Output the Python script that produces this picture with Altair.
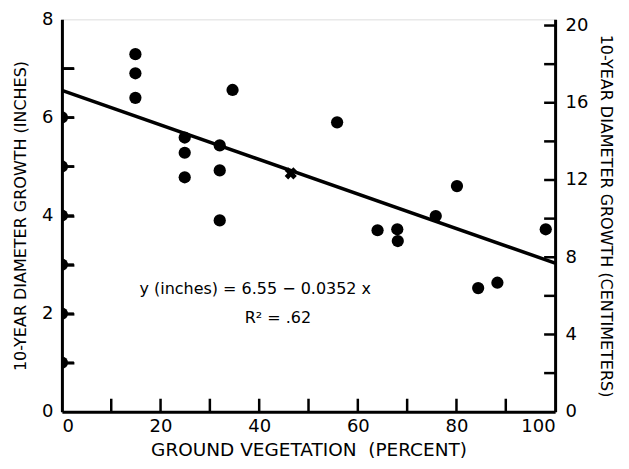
import altair as alt
import pandas as pd

# data
veg_pct = [0, 0, 0, 0, 0, 0,
           14.9, 14.9, 14.9, 24.9, 24.9, 24.9, 32.0, 32.0, 32.0, 34.6,
           55.8, 64.0, 68.0, 68.1, 75.8, 80.1, 84.4, 88.3, 98.1]
growth_in = [6.0, 5.0, 4.0, 3.0, 2.0, 1.0,
             7.29, 6.90, 6.40, 5.59, 5.28, 4.78, 5.43, 4.92, 3.90, 6.56,
             5.90, 3.70, 3.72, 3.48, 3.99, 4.60, 2.52, 2.63, 3.72]
fit_x = [0, 100]
intercept = 6.55
slope = -0.0352
mean_x = [46.4]
mean_y = [4.86]
x_ticks = list(range(10, 100, 10))
in_ticks = list(range(1, 8))
cm_ticks = list(range(2, 21, 2))
x_labels = [0, 20, 40, 60, 80, 100]
in_labels = [0, 2, 4, 6, 8]
cm_labels = [0, 4, 8, 12, 16, 20]
eq_lines = ["y (inches) = 6.55 \u2212 0.0352 x", "R\u00b2 = .62"]
eq_x = [39.2, 43.8]
eq_y = [2.51, 1.92]

W, H = 494, 393
FONT = "DejaVu Sans"

pts = pd.DataFrame({"x": veg_pct, "y": growth_in})
fit = pd.DataFrame({"x": fit_x, "y": [intercept + slope * v for v in fit_x]})
mean = pd.DataFrame({"x": mean_x, "y": mean_y})
xt = pd.DataFrame({"xv": x_ticks})
it = pd.DataFrame({"inch": in_ticks})
ct = pd.DataFrame({"c": cm_ticks})
eq = pd.DataFrame({"x": eq_x, "y": eq_y, "t": eq_lines})

xs = alt.Scale(domain=[0, 100], nice=False, zero=False)
ys = alt.Scale(domain=[0, 8], nice=False)
cs = alt.Scale(domain=[0, 8 * 2.54], nice=False)

x_axis = alt.Axis(values=x_labels, title="GROUND VEGETATION\u00a0\u00a0(PERCENT)", ticks=False,
                  grid=False, domainWidth=3, domainColor="black", labelFontSize=18,
                  labelColor="black", labelPadding=6, titleFontSize=18.5,
                  titleFontWeight="normal", titleColor="black", titlePadding=5,
                  labelFont=FONT, titleFont=FONT)
y_axis = alt.Axis(values=in_labels, title="10-YEAR DIAMETER GROWTH (INCHES)", ticks=False,
                  grid=False, domainWidth=3, domainColor="black", labelFontSize=18,
                  labelColor="black", labelPadding=9, titleFontSize=16,
                  titleFontWeight="normal", titleColor="black", titlePadding=13,
                  labelFont=FONT, titleFont=FONT)

points = alt.Chart(pts).mark_circle(size=150, color="black", opacity=1, clip=True).encode(
    x=alt.X("x:Q", scale=xs, axis=x_axis),
    y=alt.Y("y:Q", scale=ys, axis=y_axis),
)
line = alt.Chart(fit).mark_line(color="black", strokeWidth=3.5).encode(
    x=alt.X("x:Q", scale=xs), y=alt.Y("y:Q", scale=ys))
star = alt.Chart(mean).mark_point(shape="cross", angle=45, filled=True, size=150,
                                  color="black", opacity=1).encode(
    x=alt.X("x:Q", scale=xs), y=alt.Y("y:Q", scale=ys))
xtick = alt.Chart(xt).mark_rule(color="black", strokeWidth=2.5).encode(
    x=alt.X("xv:Q", scale=xs), x2=alt.X2("xv"), y=alt.value(H), y2=alt.value(H - 13))
text = alt.Chart(eq).mark_text(fontSize=16, font=FONT, color="black").encode(
    x=alt.X("x:Q", scale=xs), y=alt.Y("y:Q", scale=ys), text="t:N")

left = alt.layer(line, points, star, xtick, text)

# inward minor ticks on the inch axis, drawn by an axis shifted into the plot
ytick = alt.Chart(it).mark_tick(color="black", orient="horizontal", size=12,
                                thickness=2.5, opacity=1).encode(
    y=alt.Y("inch:Q", scale=alt.Scale(domain=[0, 8], nice=False),
            axis=alt.Axis(orient="left", offset=-12, values=in_ticks, ticks=True,
                          tickSize=12, tickWidth=2.5, tickColor="black", labels=False,
                          domain=False, grid=False, title=None)),
    x=alt.value(6),
)

right = alt.Chart(ct).mark_tick(color="black", orient="horizontal", size=11,
                                thickness=2.5, opacity=1).encode(
    y=alt.Y("c:Q", scale=cs,
            axis=alt.Axis(orient="right", values=cm_labels,
                          title="10-YEAR DIAMETER GROWTH (CENTIMETERS)", ticks=False,
                          grid=False, domainWidth=3, domainColor="black",
                          labelFontSize=18, labelColor="black", labelPadding=10,
                          titleFontSize=16, titleFontWeight="normal", titleColor="black",
                          titlePadding=10, labelFont=FONT, titleFont=FONT)),
    x=alt.value(W - 5.5),
)

chart = alt.layer(left, right, ytick).resolve_scale(y="independent").properties(
    width=W, height=H,
    autosize=alt.AutoSizeParams(type="none"),
    padding={"left": 54, "top": 11, "right": 66, "bottom": 50},
).configure_view(stroke=None).configure(background="white")

chart.save("out.html", embed_options={"renderer": "svg", "actions": False})
